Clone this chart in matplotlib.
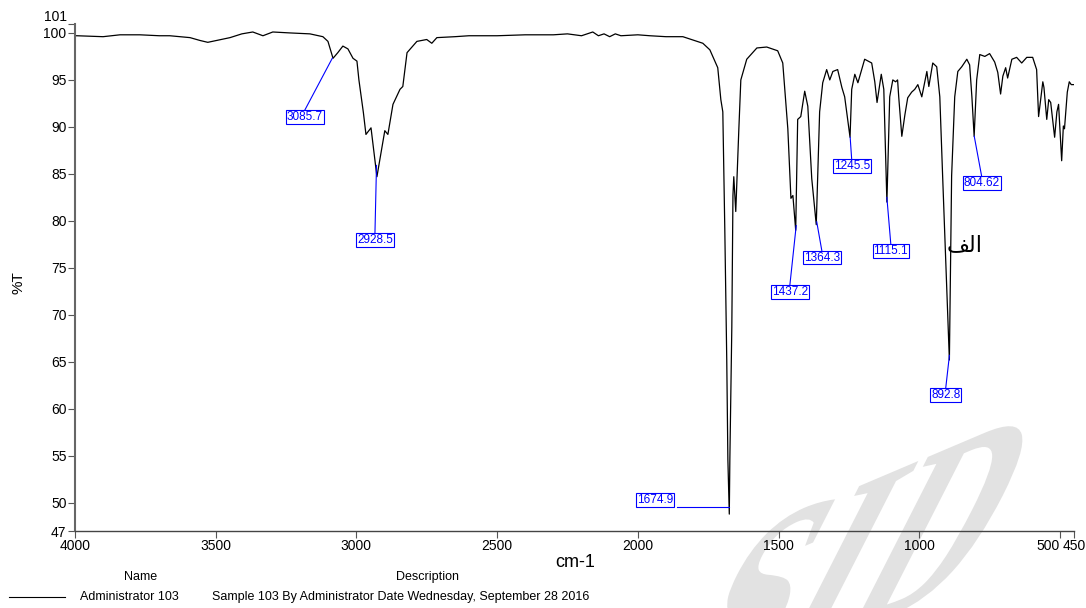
import matplotlib
matplotlib.use('Agg')
import matplotlib.pyplot as plt
from matplotlib.textpath import TextPath
from matplotlib.patches import PathPatch
from matplotlib.font_manager import FontProperties
from matplotlib.transforms import Affine2D, IdentityTransform

# spectrum (cm-1, %T)
wavenumber = [4000, 3993, 3900, 3840, 3769, 3700, 3663, 3591, 3556, 3528, 3496, 3449, 3407, 3368,
              3332, 3297, 3236, 3165, 3119, 3101, 3083, 3066, 3048, 3030, 3012, 2998, 2991, 2975,
              2966, 2948, 2927, 2899, 2888, 2870, 2845, 2835, 2820, 2785, 2750, 2732, 2714, 2650,
              2600, 2500, 2400, 2300, 2250, 2200, 2180, 2160, 2140, 2120, 2100, 2080, 2060, 2000,
              1957, 1900, 1840, 1769, 1744, 1716, 1705, 1698, 1691, 1684, 1680, 1675, 1673, 1666,
              1662, 1659, 1652, 1641, 1634, 1613, 1577, 1542, 1503, 1485, 1467, 1456, 1449, 1439,
              1432, 1421, 1407, 1396, 1382, 1366, 1354, 1343, 1329, 1318, 1307, 1290, 1275, 1265,
              1246, 1240, 1229, 1218, 1194, 1169, 1158, 1150, 1135, 1126, 1115, 1105, 1094, 1084,
              1077, 1073, 1062, 1051, 1041, 1027, 1016, 1005, 991, 973, 966, 952, 938, 927, 917,
              893, 885, 874, 863, 849, 831, 821, 813, 805, 796, 785, 767, 750, 732, 721, 711, 703,
              693, 686, 671, 654, 636, 618, 597, 583, 576, 561, 557, 547, 540, 533, 526, 519, 511,
              505, 494, 488, 484, 474, 467, 460, 450]
transmittance = [99.7, 99.7, 99.6, 99.8, 99.8, 99.7, 99.7, 99.5, 99.2, 99.0, 99.2, 99.5, 99.9, 100.1,
                 99.7, 100.1, 100.0, 99.9, 99.6, 99.1, 97.3, 97.9, 98.6, 98.3, 97.3, 97.0, 95.0, 91.5,
                 89.2, 89.9, 84.7, 89.6, 89.2, 92.4, 94.0, 94.3, 97.9, 99.1, 99.3, 98.9, 99.5, 99.6,
                 99.7, 99.7, 99.8, 99.8, 99.9, 99.7, 99.9, 100.1, 99.7, 99.9, 99.6, 99.9, 99.7, 99.8,
                 99.7, 99.6, 99.6, 98.9, 98.2, 96.3, 92.9, 91.6, 79.2, 65.2, 54.6, 48.8, 54.6, 68.7,
                 82.7, 84.7, 81.0, 89.8, 95.0, 97.2, 98.4, 98.5, 98.1, 96.8, 89.8, 82.4, 82.7, 79.0,
                 90.8, 91.1, 93.8, 92.2, 84.5, 79.6, 91.6, 94.7, 96.1, 95.0, 95.9, 96.1, 94.2, 93.2,
                 88.9, 94.0, 95.6, 94.7, 97.2, 96.8, 94.8, 92.6, 95.6, 94.0, 82.0, 93.2, 95.0, 94.8,
                 95.0, 93.2, 89.0, 91.3, 93.1, 93.7, 94.0, 94.5, 93.2, 95.9, 94.3, 96.8, 96.4, 93.2, 84.8,
                 65.2, 84.8, 93.2, 95.9, 96.4, 97.2, 96.6, 93.2, 89.0, 95.0, 97.7, 97.5, 97.8, 96.9, 95.8, 93.5, 95.4,
                 96.3, 95.2, 97.2, 97.4, 96.8, 97.4, 97.4, 96.1, 91.1, 94.8, 94.2, 90.8, 92.9, 92.6, 90.8, 88.9, 91.6,
                 92.4, 86.4, 90.1, 89.8, 93.7, 94.8, 94.5, 94.5]

# peak labels: leader start, leader end on the box, box centre, text
peak_x = [3085.7, 2928.5, 1674.9, 1437.2, 1364.3, 1245.5, 1115.1, 892.8, 804.62]
peak_y = [97.3, 85.9, 49.6, 79.5, 79.9, 88.9, 82.5, 65.7, 89.0]
link_x = [3183, 2934, 1862, 1460, 1346, 1240, 1101, 906, 778]
link_y = [91.8, 78.7, 49.6, 73.1, 76.8, 86.5, 77.5, 62.2, 84.7]
label_x = [3183, 2934, 1940, 1460, 1346, 1240, 1101, 906, 778]
label_y = [91.1, 78.0, 50.3, 72.4, 76.1, 85.8, 76.8, 61.5, 84.0]
label_text = ['3085.7', '2928.5', '1674.9', '1437.2', '1364.3', '1245.5', '1115.1', '892.8', '804.62']

xticks = [4000, 3500, 3000, 2500, 2000, 1500, 1000, 500, 450]
yticks = [47, 50, 55, 60, 65, 70, 75, 80, 85, 90, 95, 100, 101]

plt.rcParams['font.family'] = ['Liberation Sans', 'DejaVu Sans']

fig = plt.figure(figsize=(10.86, 6.08), dpi=100)
ax = fig.add_axes([0.069, 0.1266, 0.92, 0.8347])
ax.patch.set_alpha(0)

# faint slanted watermark in the lower right corner
wm = TextPath((0, 0), 'SID', size=1, prop=FontProperties(family='Liberation Serif', weight='bold'))
ext = wm.get_extents()
tr = (Affine2D().translate(-(ext.x0 + ext.x1) / 2, -(ext.y0 + ext.y1) / 2)
      .skew_deg(50, 0).rotate_deg(23).scale(200).translate(858, 50))
fig.add_artist(PathPatch(tr.transform_path(wm), transform=IdentityTransform(),
                         fc='#e2e2e2', ec='none', zorder=-5))

ax.plot(wavenumber, transmittance, color='black', lw=0.9)

for px, py, kx, ky, lx, ly, t in zip(peak_x, peak_y, link_x, link_y, label_x, label_y, label_text):
    ax.plot([px, kx], [py, ky], color='blue', lw=0.8)
    ax.text(lx, ly, t, color='blue', fontsize=8.5, ha='center', va='center',
            bbox=dict(boxstyle='square,pad=0.08', fc='white', ec='blue', lw=0.8))

ax.text(838, 77.4, '\ufed2\ufedf\ufe8d', family='DejaVu Sans', fontsize=16, ha='center', va='center')

ax.set_xlim(4000, 450)
ax.set_ylim(47, 101)
ax.set_xticks(xticks)
ax.set_yticks(yticks)
ax.tick_params(labelsize=10, length=5, width=0.8, color='#555555', pad=1)
ax.get_xticklabels()[-2].set_ha('right')
ax.get_yticklabels()[-1].set_va('bottom')
for s in ['top', 'right']:
    ax.spines[s].set_visible(False)
ax.spines['left'].set_color('#666666')
ax.spines['left'].set_linewidth(1.5)
ax.spines['bottom'].set_color('#444444')
ax.spines['bottom'].set_linewidth(1.0)

fig.text(0.53, 0.075, 'cm-1', fontsize=13, ha='center', va='center')
fig.text(0.017, 0.536, '%T', fontsize=11, rotation=90, ha='center', va='center')

# legend-like footer
fig.text(0.129, 0.051, 'Name', fontsize=9, ha='center', va='center')
fig.text(0.394, 0.051, 'Description', fontsize=9, ha='center', va='center')
fig.add_artist(plt.Line2D([0.008, 0.06], [0.018, 0.018], transform=fig.transFigure,
                          color='black', lw=0.8))
fig.text(0.074, 0.018, 'Administrator 103', fontsize=9, ha='left', va='center')
fig.text(0.195, 0.018, 'Sample 103 By Administrator Date Wednesday, September 28 2016',
         fontsize=9, ha='left', va='center')

fig.savefig('out.png', dpi=100)
